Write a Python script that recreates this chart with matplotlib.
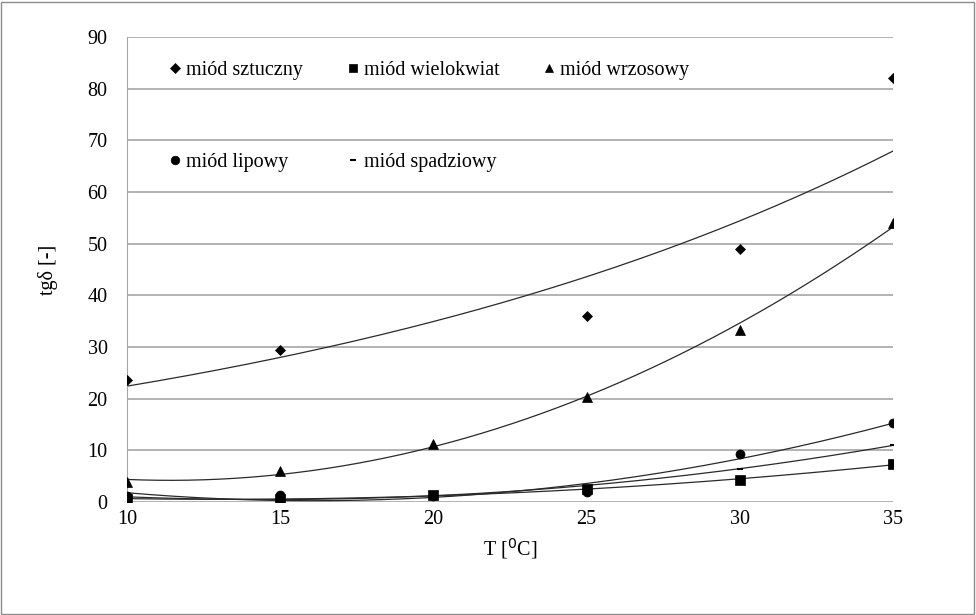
import numpy as np
import matplotlib.pyplot as plt
from matplotlib.patches import Rectangle

# temperature [C]
T = [10, 15, 20, 25, 30, 35]

# tg delta for each honey (nan = no point in the chart)
sztuczny = [23.7, 29.5, np.nan, 36.0, 49.0, 82.0]
wielokwiat = [0.6, 0.6, 1.3, 2.5, 4.3, 7.3]
wrzosowy = [3.8, 6.0, 11.3, 20.3, 33.3, 54.0]
lipowy = [1.2, 1.4, 1.2, 2.0, 9.2, 15.2]
spadziowy = [0.8, 0.8, 1.3, 3.0, 6.3, 11.1]

labels = ['miód sztuczny', 'miód wielokwiat', 'miód wrzosowy',
          'miód lipowy', 'miód spadziowy']
yticks = list(range(0, 100, 10))
xticks = [10, 15, 20, 25, 30, 35]

plt.rcParams['font.family'] = ['Liberation Serif', 'DejaVu Serif']

fig = plt.figure(figsize=(9.76, 6.15), dpi=100)
ax = fig.add_axes([127/976, 1-502/615, (893-127)/976, (502-37)/615])

series = [sztuczny, wielokwiat, wrzosowy, lipowy, spadziowy]
markers = ['D', 's', '^', 'o', '_']
msizes = [5.2, 6.5, 6.5, 6.5, 5]
trend = ['exp', 'poly', 'poly', 'poly', 'poly']

xs = np.linspace(10, 35, 200)
handles = []
for vals, m, ms, kind in zip(series, markers, msizes, trend):
    x = np.array(T, dtype=float)
    y = np.array(vals, dtype=float)
    ok = ~np.isnan(y)
    # Excel style trend lines: exponential or 2nd order polynomial
    if kind == 'exp':
        c = np.polyfit(x[ok], np.log(y[ok]), 1)
        yt = np.exp(np.polyval(c, xs))
    else:
        c = np.polyfit(x[ok], y[ok], 2)
        yt = np.polyval(c, xs)
    ax.plot(xs, yt, color='#2a2a2a', lw=0.9, zorder=2)
    h, = ax.plot(x, y, ls='none', marker=m, ms=ms, color='black',
                 mew=1.5 if m == '_' else 0.5, zorder=3)
    handles.append(h)

ax.set_xlim(10, 35)
ax.set_ylim(0, 90)
ax.set_xticks(xticks)
ax.set_yticks(yticks)
ax.tick_params(axis='y', length=0, labelsize=14.5, pad=14)
ax.tick_params(axis='x', length=0, labelsize=14.5, pad=6)
ax.yaxis.grid(True, color='#a6a6a6', lw=1.2)
ax.set_axisbelow(True)
for s in ['top', 'right', 'bottom']:
    ax.spines[s].set_visible(False)
ax.spines['left'].set_color('#a6a6a6')
ax.set_xlabel('T [$^0$C]', fontsize=14.5, labelpad=5)
ax.set_ylabel('tgδ [-]', fontsize=14.5, labelpad=21)

# legend order so that ncol=3 fills rows like the original
order = [0, 3, 1, 4, 2]
ax.legend([handles[i] for i in order], [labels[i] for i in order], ncol=3,
          loc='upper left', bbox_to_anchor=(0.046, 0.965), frameon=False,
          fontsize=14.5, handlelength=0.5, handletextpad=0.3, columnspacing=2.2,
          labelspacing=3.6, markerscale=0.95, borderaxespad=0)

fig.patches.append(Rectangle((0.001, 0.002), 0.997, 0.995, transform=fig.transFigure,
                             fill=False, edgecolor='#8c8c8c', lw=1))

fig.savefig('out.png', dpi=100)
